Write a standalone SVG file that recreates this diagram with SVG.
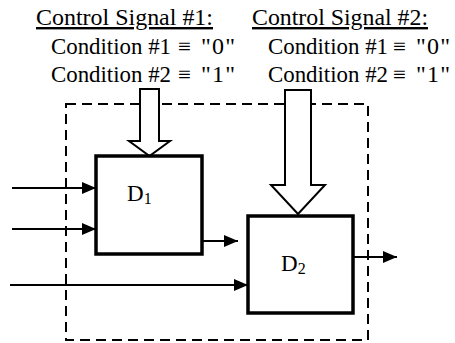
<svg xmlns="http://www.w3.org/2000/svg" width="455" height="343" viewBox="0 0 455 343">
<style>
text{font-family:'Liberation Serif','Times New Roman','DejaVu Serif',serif;font-size:23px;fill:#000}
.head{font-size:24px;text-decoration:underline}
.q{font-size:24px}
.box{fill:#fff;stroke:#000;stroke-width:3.5}
.wire{stroke:#000;stroke-width:2;fill:none}
.big{fill:#fff;stroke:#000;stroke-width:2;stroke-linejoin:miter}
.dash{fill:none;stroke:#000;stroke-width:2;stroke-dasharray:10 6}
.sub{font-size:16px}
</style>
<defs>
<marker id="ah" markerWidth="14" markerHeight="12" refX="14" refY="6" orient="auto" markerUnits="userSpaceOnUse">
<path d="M0,0 L14,6 L0,12 Z" fill="#000"/>
</marker>
</defs>
<g id="labels">
<text class="head" x="36" y="25" textLength="177" lengthAdjust="spacingAndGlyphs">Control Signal #1:</text>
<text x="51" y="54" textLength="120" lengthAdjust="spacingAndGlyphs">Condition #1</text><text x="178" y="54">≡</text><text class="q" x="201" y="54" textLength="34" lengthAdjust="spacing">"0"</text>
<text x="51" y="82" textLength="120" lengthAdjust="spacingAndGlyphs">Condition #2</text><text x="178" y="82">≡</text><text class="q" x="201" y="82" textLength="34" lengthAdjust="spacing">"1"</text>
<text class="head" x="252" y="25" textLength="176" lengthAdjust="spacingAndGlyphs">Control Signal #2:</text>
<text x="268" y="54" textLength="120" lengthAdjust="spacingAndGlyphs">Condition #1</text><text x="393" y="54">≡</text><text class="q" x="416" y="54" textLength="34" lengthAdjust="spacing">"0"</text>
<text x="268" y="82" textLength="120" lengthAdjust="spacingAndGlyphs">Condition #2</text><text x="393" y="82">≡</text><text class="q" x="416" y="82" textLength="34" lengthAdjust="spacing">"1"</text>
</g>
<rect id="boundary" class="dash" x="66" y="104" width="302" height="236"/>
<g id="connectors">
<line class="wire" x1="12" y1="188" x2="96" y2="188" marker-end="url(#ah)"/>
<line class="wire" x1="12" y1="229" x2="96" y2="229" marker-end="url(#ah)"/>
<line class="wire" x1="10" y1="285" x2="248" y2="285" marker-end="url(#ah)"/>
<line class="wire" x1="202" y1="241" x2="238" y2="241" marker-end="url(#ah)"/>
<line class="wire" x1="353" y1="257" x2="397" y2="257" marker-end="url(#ah)"/>
<polygon class="big" points="140,89 159,89 159,141 170,141 149.5,156 129,141 140,141"/>
<polygon class="big" points="285,90 311,90 311,185 325,185 298,214 271,185 285,185"/>
</g>
<g id="D1">
<rect class="box" x="96" y="156" width="106" height="98"/>
<text x="127" y="201" font-size="24">D<tspan class="sub" dy="3">1</tspan></text>
</g>
<g id="D2">
<rect class="box" x="248" y="216" width="105" height="97"/>
<text x="281" y="271" font-size="24">D<tspan class="sub" dy="3">2</tspan></text>
</g>
</svg>
